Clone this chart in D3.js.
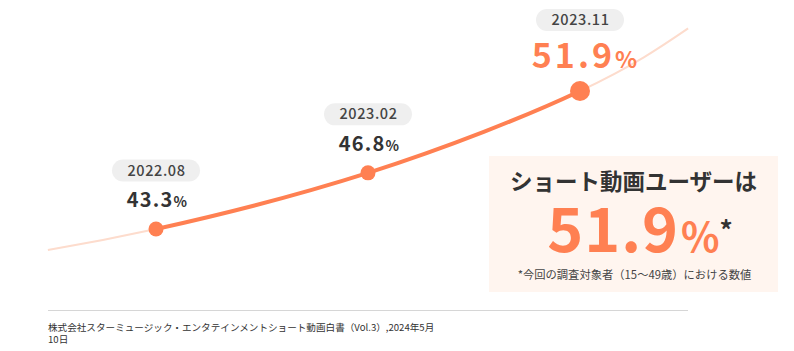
<!DOCTYPE html>
<html><head><meta charset="utf-8">
<script src="https://cdn.jsdelivr.net/npm/d3@7"></script>
<style>
html,body{margin:0;padding:0;background:#fff;}
svg{display:block;font-family:"Noto Sans CJK JP","Noto Sans",sans-serif;}
</style></head>
<body>
<svg id="c" width="794" height="351"></svg>
<script>
// ---- data ----
const periods = ["2022.08", "2023.02", "2023.11"];
const values = [43.3, 46.8, 51.9];
const trendLead = 42.0;   // faint trend before first survey
const trendTail = 55.8;   // faint trend after last survey
const calloutTitle = "ショート動画ユーザーは";
const calloutValue = "51.9";
const calloutNote = "*今回の調査対象者（15〜49歳）における数値";
const sourceLines = ["株式会社スターミュージック・エンタテインメントショート動画白書（Vol.3）,2024年5月", "10日"];

const orange = "#ff8052";
const svg = d3.select("#c");

const x = d3.scaleLinear().domain([0, 2]).range([156, 580]);
const y = d3.scaleLinear().domain([40, 56]).range([282, 25.2]);

const trend = [{i: -0.51, v: trendLead}]
  .concat(values.map((v, i) => ({i, v})))
  .concat([{i: 2.51, v: trendTail}]);

const line = d3.line().x(d => x(d.i)).y(d => y(d.v)).curve(d3.curveNatural);

svg.append("defs").append("clipPath").attr("id", "solidClip")
  .append("rect").attr("x", x(0)).attr("y", 0)
  .attr("width", x(2) - x(0)).attr("height", 351);

svg.append("path").datum(trend).attr("d", line)
  .attr("fill", "none").attr("stroke", "#fddccd").attr("stroke-width", 2);
svg.append("path").datum(trend).attr("d", line)
  .attr("clip-path", "url(#solidClip)")
  .attr("fill", "none").attr("stroke", orange).attr("stroke-width", 4);

const pts = values.map((v, i) => ({i, v, p: periods[i], last: i === values.length - 1}));

svg.selectAll("circle.pt").data(pts).join("circle")
  .attr("cx", d => x(d.i)).attr("cy", d => y(d.v))
  .attr("r", d => d.last ? 10 : 7.5).attr("fill", orange);

// labels
pts.forEach(d => {
  const cx = x(d.i), cy = y(d.v);
  const pillC = d.last ? cy - 71 : cy - 58.5;
  const g = svg.append("g");
  g.append("rect").attr("x", cx - 44).attr("y", pillC - 11)
    .attr("width", 88).attr("height", 22).attr("rx", 11)
    .attr("fill", "#efefef");
  g.append("text").attr("x", cx + 0.5).attr("y", pillC + 5)
    .attr("text-anchor", "middle").attr("font-size", 14.5)
    .attr("letter-spacing", 0.6)
    .attr("fill", "#444").attr("font-weight", 500).text(d.p);
  const t = g.append("text").attr("x", d.last ? cx + 6 : cx + 1.5)
    .attr("y", d.last ? cy - 23 : cy - 22)
    .attr("text-anchor", "middle").attr("font-weight", 700)
    .attr("letter-spacing", d.last ? 3 : 1.2)
    .attr("fill", d.last ? orange : "#333");
  t.append("tspan").attr("font-size", d.last ? 34 : 20).text(d.v.toFixed(1));
  t.append("tspan").attr("font-size", d.last ? 23 : 14).text("%");
});

// callout box
svg.append("rect").attr("x", 489).attr("y", 156).attr("width", 289).attr("height", 136)
  .attr("fill", "#fff5ef");
svg.append("text").attr("x", 633.5).attr("y", 190).attr("text-anchor", "middle")
  .attr("font-size", 22.5).attr("font-weight", 700).attr("fill", "#333").text(calloutTitle);
const big = svg.append("text").attr("x", 640).attr("y", 252).attr("text-anchor", "middle")
  .attr("font-weight", 700);
big.append("tspan").attr("font-size", 61).attr("fill", orange).attr("letter-spacing", 1).text(calloutValue);
big.append("tspan").attr("font-size", 40).attr("fill", orange).attr("dx", 2).text("%");
big.append("tspan").attr("font-size", 26).attr("fill", "#333").attr("dy", -12).text("*");
svg.append("text").attr("x", 634.5).attr("y", 279).attr("text-anchor", "middle")
  .attr("font-size", 11.3).attr("fill", "#444").text(calloutNote);

// source
svg.append("line").attr("x1", 48).attr("x2", 688).attr("y1", 310.5).attr("y2", 310.5)
  .attr("stroke", "#d6d6d6").attr("stroke-width", 1);
sourceLines.forEach((s, k) => {
  svg.append("text").attr("x", 48).attr("y", 331 + k * 12)
    .attr("font-size", 9.6).attr("fill", "#333").text(s);
});
</script>
</body></html>
